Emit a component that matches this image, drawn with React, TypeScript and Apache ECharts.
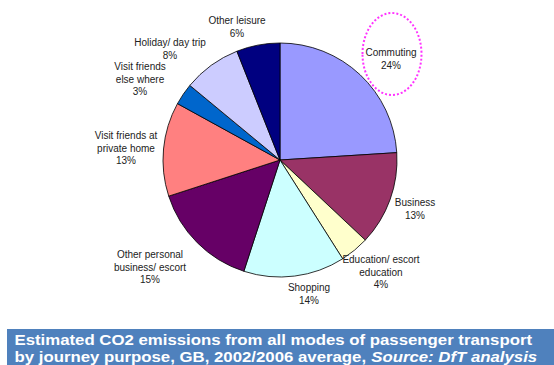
import React, { useEffect, useRef } from "react";
import * as echarts from "echarts";

const categories = [
  "Commuting",
  "Business",
  "Education/ escort\neducation",
  "Shopping",
  "Other personal\nbusiness/ escort",
  "Visit friends at\nprivate home",
  "Visit friends\nelse where",
  "Holiday/ day trip",
  "Other leisure",
];
const shares = [24, 13, 4, 14, 15, 13, 3, 8, 6];
const colors = ["#9999FF", "#993366", "#FFFFCC", "#CCFFFF", "#660066", "#FF8080", "#0066CC", "#CCCCFF", "#000080"];
const titleLine1 = "Estimated CO2 emissions from all modes of passenger transport";
const titleLine2a = "by journey purpose, GB, 2002/2006 average, ";
const titleLine2b = "Source: DfT analysis";

// label anchor positions (layout only)
const labelPos: [number, number][] = [
  [391, 59],
  [415, 209],
  [381, 272],
  [309, 294],
  [150, 267],
  [126, 148],
  [140, 79],
  [170, 49],
  [237, 27],
];

export default function App() {
  const ref = useRef<HTMLDivElement>(null);
  useEffect(() => {
    document.body.style.margin = "0";
    const chart = echarts.init(ref.current!, null, { renderer: "svg" });
    const font = "Liberation Sans, Arial, sans-serif";
    chart.setOption({
      animation: false,
      backgroundColor: "#ffffff",
      series: [
        {
          type: "pie",
          center: [280, 160],
          radius: [0, 117],
          startAngle: 90,
          clockwise: true,
          data: categories.map((c, i) => ({ name: c, value: shares[i], itemStyle: { color: colors[i] } })),
          itemStyle: { borderColor: "#000000", borderWidth: 0.8 },
          label: {
            show: true,
            formatter: "{b}\n{c}%",
            fontFamily: font,
            fontSize: 10,
            lineHeight: 12.5,
            color: "#222222",
            align: "center",
          },
          labelLine: { show: false },
          labelLayout: (params: any) => {
            const p = labelPos[params.dataIndex];
            return { x: p[0], y: p[1], align: "center", verticalAlign: "middle", hideOverlap: false };
          },
          emphasis: { disabled: true },
        },
      ],
      graphic: [
        {
          type: "ellipse",
          shape: { cx: 392, cy: 54, rx: 29.5, ry: 41 },
          style: { fill: "none", stroke: "#FF33FF", lineWidth: 2, lineDash: [2, 2] },
          silent: true,
        },
        {
          type: "rect",
          shape: { x: 7, y: 329, width: 547, height: 36 },
          style: { fill: "#4F81BD" },
          silent: true,
        },
        {
          type: "text",
          x: 14.5,
          y: 340,
          scaleX: 1.12,
          style: {
            text: titleLine1,
            fill: "#ffffff",
            font: "bold 15px 'Liberation Sans', Arial, sans-serif",
            verticalAlign: "middle",
          },
          silent: true,
        },
        {
          type: "text",
          x: 14.5,
          y: 356.5,
          scaleX: 1.12,
          style: {
            text: `{n|${titleLine2a}}{i|${titleLine2b}}`,
            fill: "#ffffff",
            font: "bold 15px 'Liberation Sans', Arial, sans-serif",
            verticalAlign: "middle",
            rich: {
              n: { fontWeight: "bold", fontSize: 15, fontFamily: font, color: "#ffffff" },
              i: { fontWeight: "bold", fontStyle: "italic", fontSize: 15, fontFamily: font, color: "#ffffff" },
            },
          },
          silent: true,
        },
      ],
    });
    return () => chart.dispose();
  }, []);
  return <div ref={ref} style={{ position: "absolute", left: 0, top: 0, width: 554, height: 365 }} />;
}
